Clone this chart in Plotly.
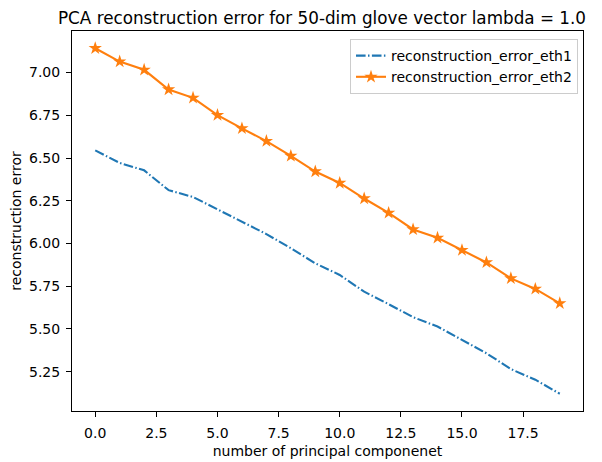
import plotly.graph_objects as go

components = list(range(20))
error_eth1 = [6.545, 6.471, 6.428, 6.312, 6.272, 6.199, 6.125, 6.055, 5.972, 5.884,
              5.816, 5.718, 5.645, 5.569, 5.514, 5.436, 5.358, 5.265, 5.203, 5.121]
error_eth2 = [7.142, 7.064, 7.016, 6.901, 6.852, 6.751, 6.673, 6.599, 6.512, 6.421,
              6.354, 6.263, 6.179, 6.082, 6.033, 5.961, 5.889, 5.796, 5.734, 5.650]
x_ticks = [0, 2.5, 5, 7.5, 10, 12.5, 15, 17.5]
y_ticks = [5.25, 5.5, 5.75, 6.0, 6.25, 6.5, 6.75, 7.0]

font = "DejaVu Sans"
W, H = 594, 454
L, R, T, B = 64, 19, 23, 51
fig = go.Figure()
fig.add_trace(go.Scatter(
    x=components, y=error_eth1, mode="lines", name="reconstruction_error_eth1",
    line=dict(color="#1f77b4", width=2.1, dash="9.6px,2.4px,1.5px,2.4px"),
))
fig.add_trace(go.Scatter(
    x=components, y=error_eth2, mode="lines+markers", name="reconstruction_error_eth2",
    line=dict(color="#ff7f0e", width=2.1),
    marker=dict(symbol="star", size=10, color="#ff7f0e", line=dict(width=0)),
))

span = max(error_eth2) - min(error_eth1)
ylo = min(error_eth1) - 0.05 * span
yhi = max(error_eth2) + 0.05 * span
xspan = components[-1] - components[0]

axis_common = dict(
    showline=True, linecolor="black", linewidth=1, mirror=True,
    ticks="outside", ticklen=5, tickwidth=1, tickcolor="black",
    showgrid=False, zeroline=False, automargin=False,
    tickfont=dict(family=font, size=14, color="black"),
)

pw = W - L - R
ph = H - T - B
fig.update_layout(
    width=W, height=H,
    margin=dict(l=L, r=R, t=T, b=B, autoexpand=False),
    paper_bgcolor="white", plot_bgcolor="white",
    font=dict(family=font, color="black"),
    title=dict(text="PCA reconstruction error for 50-dim glove vector lambda = 1.0",
               x=(322 - 8 - L) / pw, xref="paper", xanchor="center",
               yref="container", y=1 - 10 / H, yanchor="middle",
               font=dict(family=font, size=16.8, color="black")),
    xaxis=dict(range=[components[0] - 0.05 * xspan, components[-1] + 0.05 * xspan],
               tickvals=x_ticks, tickformat=".1f", ticklabelstandoff=4,
               title=dict(text="number of principal componenet", standoff=6,
                          font=dict(family=font, size=14, color="black")),
               **axis_common),
    yaxis=dict(range=[ylo, yhi], tickvals=y_ticks, tickformat=".2f", ticklabelstandoff=3,
               title=dict(text="reconstruction error", standoff=5,
                          font=dict(family=font, size=14, color="black")),
               **axis_common),
    legend=dict(x=1 - 5 / pw, y=1 - 8 / ph, xanchor="right", yanchor="top",
                bgcolor="rgba(255,255,255,0.8)", bordercolor="#cccccc", borderwidth=1,
                font=dict(family=font, size=14, color="black"),
                tracegroupgap=0, itemwidth=30),
    showlegend=True,
)

fig.write_html("out.html")
